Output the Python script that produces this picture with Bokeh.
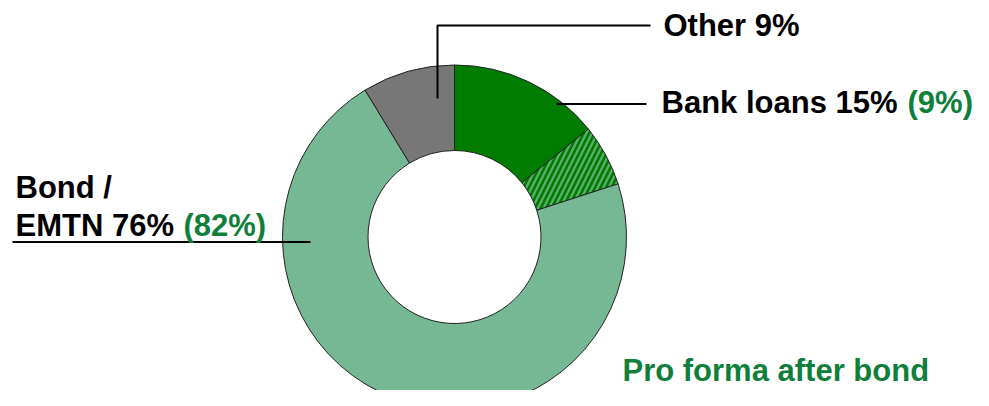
import math
from bokeh.plotting import figure
from bokeh.models import Range1d
from bokeh.core.properties import value
from bokeh.embed import file_html
from bokeh.resources import INLINE

# ---- data ----
categories = ["Bank loans", "Bank loans (refinanced by bond)", "Bond / EMTN", "Other"]
shares = [14.2, 5.8, 71.3, 8.7]          # slice sizes, clockwise from 12 o'clock
fills = ["#007c00", "#007c00", "#76b893", "#777777"]
hatches = [" ", "/", " ", " "]

label_other = "Other 9%"
label_bank = "Bank loans 15%"
label_bank_pf = "(9%)"
label_bond_1 = "Bond /"
label_bond_2 = "EMTN 76%"
label_bond_pf = "(82%)"
label_title = "Pro forma after bond"

GREEN_TXT = "#0f7f3b"
FONT = value("Liberation Sans")

W, H = 973, 390
p = figure(width=W, height=H, output_backend="svg", toolbar_location=None,
           x_range=Range1d(0, W), y_range=Range1d(0, H),
           min_border=0, outline_line_color=None)
p.axis.visible = False
p.grid.visible = False
p.background_fill_color = "white"
p.border_fill_color = "white"

def Y(ypix):
    return H - ypix

cx, cy = 454, Y(236.5)
r_in, r_out = 86.5, 172

total = sum(shares)
starts, ends = [], []
acc = 0.0
for s in shares:
    a0 = math.pi / 2 - acc / total * 2 * math.pi
    acc += s
    a1 = math.pi / 2 - acc / total * 2 * math.pi
    starts.append(a0)
    ends.append(a1)

for i in range(len(shares)):
    kw = {}
    if hatches[i] != " ":
        kw = dict(hatch_pattern=hatches[i], hatch_color="#5fae70",
                  hatch_scale=11, hatch_weight=2.2, hatch_alpha=1.0)
    p.annular_wedge(x=cx, y=cy, inner_radius=r_in, outer_radius=r_out,
                    start_angle=starts[i], end_angle=ends[i], direction="clock",
                    fill_color=fills[i], line_color="#222222", line_width=1, **kw)

# leader lines
p.line(x=[437, 437, 650], y=[Y(98), Y(25), Y(25)], line_color="black", line_width=2)
p.line(x=[556, 646], y=[Y(103.5), Y(103.5)], line_color="black", line_width=2)
p.line(x=[12, 310], y=[Y(241.5), Y(241.5)], line_color="black", line_width=2)

TXT_SHIFT = 10  # renderer places alphabetic baseline slightly lower

def txt(x, yb, t, color="black", size="31px"):
    p.text(x=[x], y=[Y(yb - TXT_SHIFT)], text=[t], text_font=FONT, text_font_style="bold",
           text_font_size=size, text_color=color, text_align="left",
           text_baseline="alphabetic")

txt(663, 35, label_other)
txt(661, 112, label_bank)
txt(907, 112, label_bank_pf, GREEN_TXT)
txt(15, 197, label_bond_1)
txt(15, 235, label_bond_2)
txt(183, 235, label_bond_pf, GREEN_TXT)
txt(622, 380, label_title, GREEN_TXT)

open("out.html", "w").write(file_html(p, INLINE))
